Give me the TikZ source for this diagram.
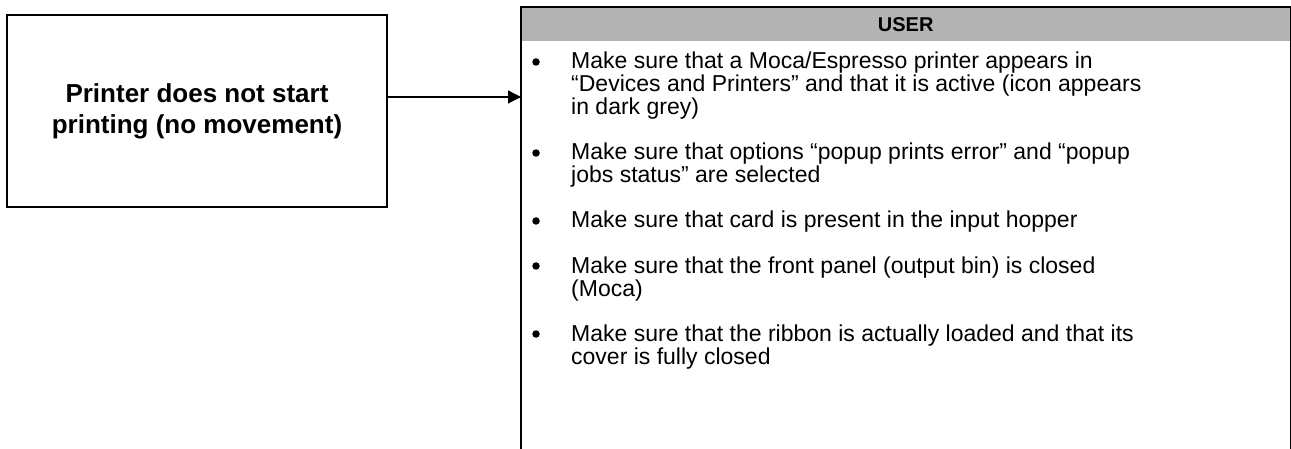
\documentclass[tikz,border=0pt]{standalone}
\usepackage{fontspec}
\setmainfont{Liberation Sans}
\usetikzlibrary{arrows.meta}
\definecolor{hdrgrey}{HTML}{B3B3B3}
\begin{document}
\begin{tikzpicture}[x=1pt,y=-1pt,font=\fontsize{23}{23}\selectfont,
  item/.style={anchor=base west,align=left,inner sep=0pt},
  dot/.style={circle,fill,inner sep=0pt,minimum size=7.5pt}]
\useasboundingbox (0,0) rectangle (1291,449);
\node[draw,line width=1.6pt,minimum width=380,minimum height=192,align=center,
  font=\fontsize{26}{31}\selectfont\bfseries] (fault) at (197,111) {Printer does not start\\printing (no movement)};
\node[fill=hdrgrey,minimum width=769,minimum height=34,anchor=north west,
  font=\fontsize{20}{23}\selectfont\bfseries] (hdr) at (521,7) {USER};
\draw[line width=1.2pt] (hdr.north west |- 0,449) -- (hdr.north west) -- (hdr.north east) -- (hdr.north east |- 0,449);
\draw[line width=1.2pt,-{Triangle[length=13pt,width=13pt]}] (fault.east |- 0,97) -- (hdr.west |- 0,97);
% items (base = last line)
\node[dot] (b1) at (536,62) {};
\node[item] (i1) at (571,115) {Make sure that a Moca/Espresso printer appears in\\“Devices and Printers” and that it is active (icon appears\\in dark grey)};
\node[dot] (b2) at (536,153) {};
\node[item] (i2) at (571,183) {Make sure that options “popup prints error” and “popup\\jobs status” are selected};
\node[dot] (b3) at (536,221) {};
\node[item] (i3) at (571,228) {Make sure that card is present in the input hopper};
\node[dot] (b4) at (536,266) {};
\node[item] (i4) at (571,296) {Make sure that the front panel (output bin) is closed\\(Moca)};
\node[dot] (b5) at (536,334) {};
\node[item] (i5) at (571,364) {Make sure that the ribbon is actually loaded and that its\\cover is fully closed};
\end{tikzpicture}
\end{document}
